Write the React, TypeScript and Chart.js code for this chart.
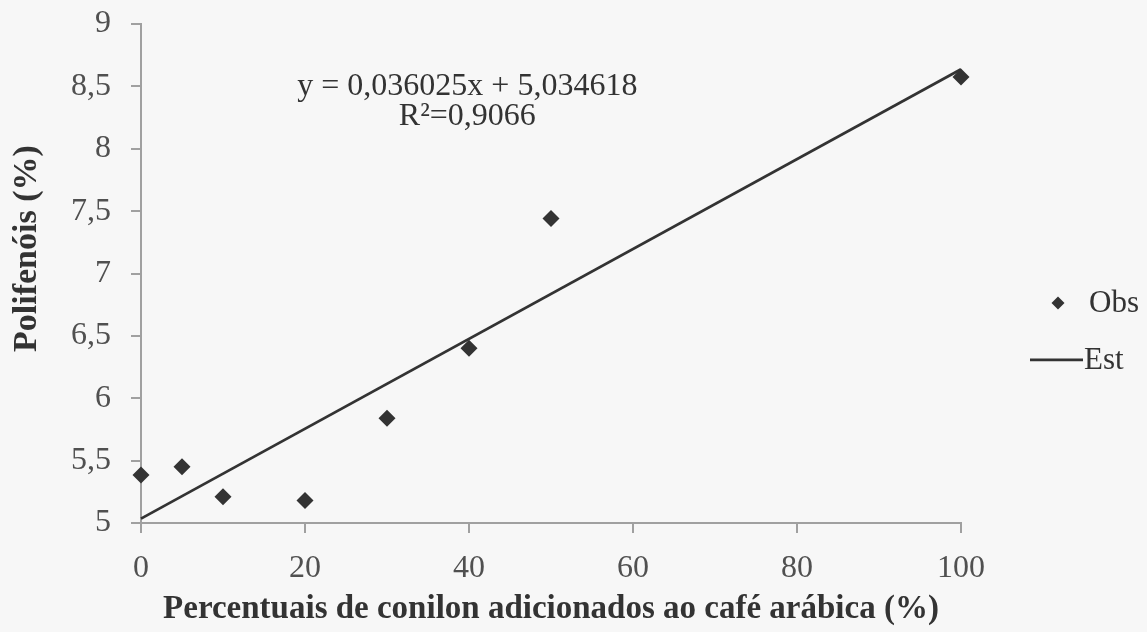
import React, { useEffect, useRef } from "react";
import { Chart, registerables } from "chart.js";

Chart.register(...registerables);

const obsX = [0, 5, 10, 20, 30, 40, 50, 100];
const obsY = [5.385, 5.45, 5.21, 5.18, 5.84, 6.4, 7.44, 8.575];
const estX = [0, 100];
const estY = [5.035, 8.637];
const yTicks = [5, 5.5, 6, 6.5, 7, 7.5, 8, 8.5, 9];
const xTicks = [0, 20, 40, 60, 80, 100];
const equationLines = ["y = 0,036025x + 5,034618", "R\u00B2=0,9066"];
const legendLabels = ["Obs", "Est"];
const xTitle = "Percentuais de conilon adicionados ao café arábica (%)";
const yTitle = "Polifenóis (%)";

const SERIF = "'Liberation Serif', 'DejaVu Serif', serif";
const INK = "#333333";
const AXIS = "#a0a0a0";

const bgPlugin = {
  id: "bg",
  beforeDraw(chart: any) {
    const { ctx, width, height } = chart;
    ctx.save();
    ctx.fillStyle = "#f7f7f7";
    ctx.fillRect(0, 0, width, height);
    ctx.restore();
  },
};

const annoPlugin = {
  id: "anno",
  afterDraw(chart: any) {
    const { ctx, scales, chartArea } = chart;
    const xs = scales.x;
    const ys = scales.y;
    ctx.save();
    ctx.fillStyle = INK;
    ctx.textBaseline = "middle";

    // equation
    ctx.textAlign = "center";
    ctx.font = `32px ${SERIF}`;
    const cx = xs.getPixelForValue(39.8);
    ctx.fillText(equationLines[0], cx, ys.getPixelForValue(8.5));
    ctx.fillText(equationLines[1], cx, ys.getPixelForValue(8.26));

    // axis titles
    ctx.font = `bold 33px ${SERIF}`;
    ctx.fillText(xTitle, (chartArea.left + chartArea.right) / 2, 609);
    ctx.save();
    ctx.translate(27, ys.getPixelForValue(7.2));
    ctx.rotate(-Math.PI / 2);
    ctx.font = `bold 34px ${SERIF}`;
    ctx.fillText(yTitle, 0, 0);
    ctx.restore();

    // legend
    const lx = chartArea.right;
    ctx.font = `31px ${SERIF}`;
    ctx.textAlign = "left";
    const y1 = ys.getPixelForValue(6.764);
    const y2 = ys.getPixelForValue(6.307);
    const dx = lx + 97;
    const r = 6.5;
    ctx.beginPath();
    ctx.moveTo(dx, y1 - r);
    ctx.lineTo(dx + r, y1);
    ctx.lineTo(dx, y1 + r);
    ctx.lineTo(dx - r, y1);
    ctx.closePath();
    ctx.fill();
    ctx.fillText(legendLabels[0], lx + 128, y1 + 1);
    ctx.strokeStyle = INK;
    ctx.lineWidth = 2.75;
    ctx.beginPath();
    ctx.moveTo(lx + 69, y2);
    ctx.lineTo(lx + 122, y2);
    ctx.stroke();
    ctx.fillText(legendLabels[1], lx + 123, y2 + 1);
    ctx.restore();
  },
};

export default function App() {
  const ref = useRef<HTMLCanvasElement | null>(null);

  useEffect(() => {
    if (!ref.current) return;
    const chart = new Chart(ref.current, {
      type: "scatter",
      data: {
        datasets: [
          {
            label: legendLabels[0],
            data: obsX.map((x, i) => ({ x, y: obsY[i] })),
            pointStyle: "rectRot",
            pointRadius: 8.5,
            backgroundColor: INK,
            borderColor: INK,
            borderWidth: 0,
            showLine: false,
            clip: false,
          } as any,
          {
            label: legendLabels[1],
            type: "line",
            data: estX.map((x, i) => ({ x, y: estY[i] })),
            borderColor: INK,
            borderWidth: 2.75,
            pointRadius: 0,
            fill: false,
            clip: false,
          } as any,
        ],
      },
      options: {
        animation: false,
        responsive: false,
        layout: { padding: { top: 24, right: 186, left: 0, bottom: 0 } },
        plugins: {
          legend: { display: false },
          tooltip: { enabled: false },
        },
        scales: {
          x: {
            type: "linear",
            min: 0,
            max: 100,
            afterBuildTicks: (s: any) => {
              s.ticks = xTicks.map((v) => ({ value: v }));
            },
            afterFit: (s: any) => {
              s.height = 109;
              s.paddingLeft = 0;
              s.paddingRight = 0;
            },
            grid: {
              drawOnChartArea: false,
              drawTicks: true,
              tickLength: 10,
              color: AXIS,
              lineWidth: 2,
            },
            border: { color: AXIS, width: 2 },
            ticks: {
              color: "#505050",
              font: { family: SERIF, size: 32 },
              padding: 16,
              maxRotation: 0,
            },
            title: { display: false },
          },
          y: {
            type: "linear",
            min: 5,
            max: 9,
            afterBuildTicks: (s: any) => {
              s.ticks = yTicks.map((v) => ({ value: v }));
            },
            afterFit: (s: any) => {
              s.width = 141;
              s.paddingTop = 0;
              s.paddingBottom = 0;
            },
            grid: {
              drawOnChartArea: false,
              drawTicks: true,
              tickLength: 10,
              color: AXIS,
              lineWidth: 2,
            },
            border: { color: AXIS, width: 2 },
            ticks: {
              color: "#505050",
              font: { family: SERIF, size: 32 },
              padding: 20,
              callback: (v: any) => String(v).replace(".", ","),
            },
            title: { display: false },
          },
        },
      },
      plugins: [bgPlugin, annoPlugin],
    });
    return () => chart.destroy();
  }, []);

  return (
    <div style={{ position: "fixed", left: 0, top: 0, width: 1147, height: 632 }}>
      <canvas ref={ref} width={1147} height={632} style={{ display: "block" }} />
    </div>
  );
}
